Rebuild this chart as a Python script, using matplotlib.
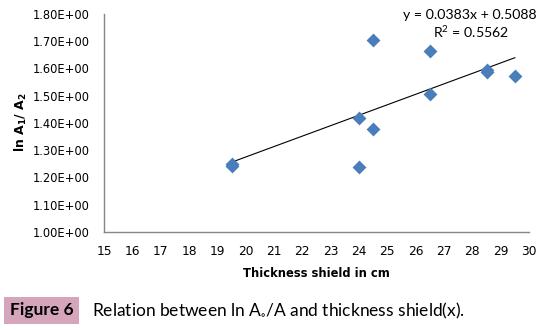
import numpy as np
import matplotlib
matplotlib.use("Agg")
import matplotlib.pyplot as plt
from matplotlib.patches import Rectangle

plt.rcParams["mathtext.default"] = "regular"

thickness = [19.5, 19.5, 24.0, 24.0, 24.5, 24.5, 26.5, 26.5, 28.5, 28.5, 29.5]
ln_ratio = [1.250, 1.243, 1.418, 1.238, 1.702, 1.377, 1.662, 1.505, 1.595, 1.585, 1.572]
x_ticks = list(range(15, 31))
y_ticks = [1.00, 1.10, 1.20, 1.30, 1.40, 1.50, 1.60, 1.70, 1.80]
y_tick_labels = ["%.2fE+00" % v for v in y_ticks]
equation_text = "y = 0.0383x + 0.5088"
r2_text = "R$^2$ = 0.5562"
slope, intercept = 0.0383, 0.5088

fig = plt.figure(figsize=(5.44, 3.30), dpi=100)
ax = fig.add_axes([104/544, 1-232/330, (529-104)/544, (232-13.7)/330])

ax.scatter(thickness, ln_ratio, marker="D", s=50, color="#4a7ebb", zorder=3, linewidths=0)
xl = np.array([min(thickness), max(thickness)])
ax.plot(xl, slope*xl + intercept, color="black", lw=0.8, zorder=2)

ax.set_xlim(15, 30)
ax.set_ylim(1.0, 1.8)
ax.set_xticks(x_ticks)
ax.set_xticklabels([str(v) for v in x_ticks], fontsize=8.8, family="DejaVu Sans")
ax.set_yticks(y_ticks)
ax.set_yticklabels(y_tick_labels, fontsize=8.3, family="DejaVu Sans")
ax.tick_params(axis="x", length=0, pad=9.5)
ax.tick_params(axis="y", length=0, pad=10.5)
for s in ["top", "right"]:
    ax.spines[s].set_visible(False)
for s in ["left", "bottom"]:
    ax.spines[s].set_color("#868686")
    ax.spines[s].set_linewidth(1.0)

ax.set_xlabel("Thickness shield in cm", fontsize=8.3, fontweight="bold", labelpad=6)
fig.text(21/544, 1-122/330, "ln A$_1$/ A$_2$", rotation=90, fontsize=9, fontweight="bold",
         ha="center", va="center")

fig.text(470/544, 1-15/330, equation_text, fontsize=10.2, family="Lato", ha="center", va="center")
fig.text(471/544, 1-32/330, r2_text, fontsize=10.2, family="Lato", ha="center", va="center")

fig.patches.append(Rectangle((4/544, 1-324/330), 75/544, 27/330, transform=fig.transFigure,
                             facecolor="#d4a5bb", edgecolor="none"))
fig.text(41.5/544, 1-310.5/330, "Figure 6", fontsize=12.5, fontweight="bold", family="Lato",
         ha="center", va="center")
fig.text(92/544, 1-310.5/330, "Relation between ln A$_{\\circ}$/A and thickness shield(x).",
         fontsize=12.5, family="Lato", ha="left", va="center")

fig.savefig("out.png", dpi=100)
